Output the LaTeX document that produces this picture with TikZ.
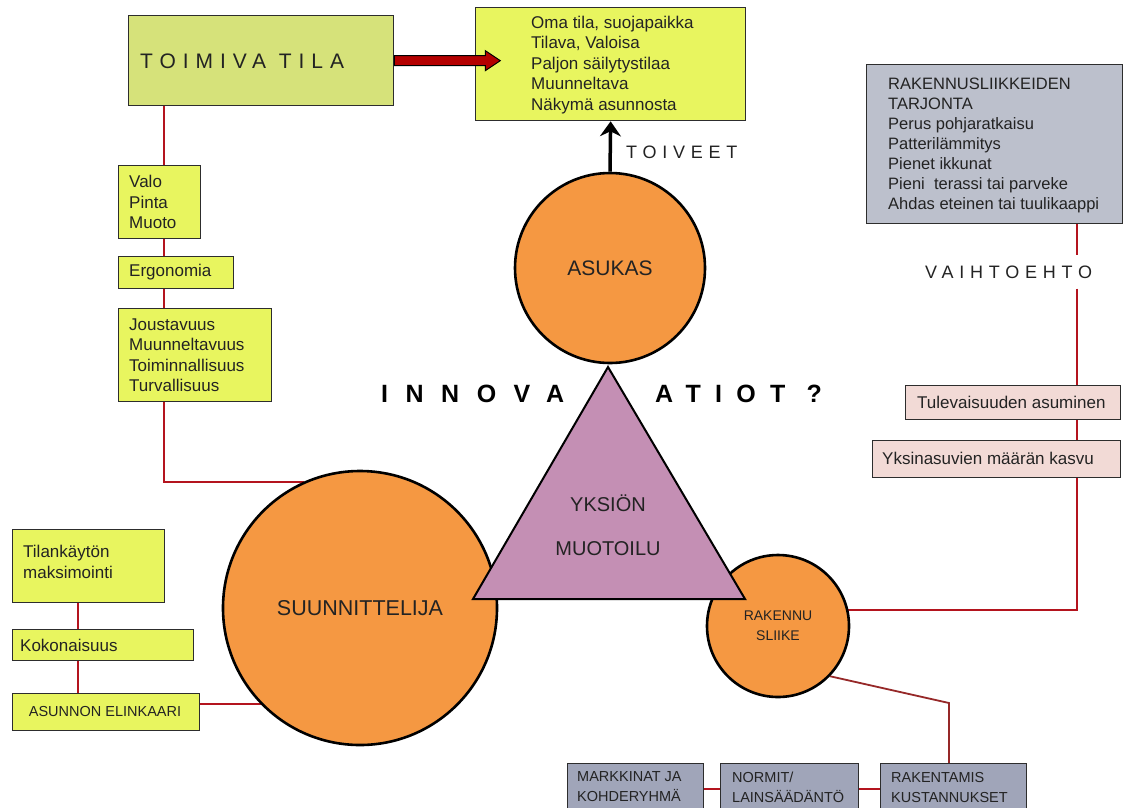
\documentclass[tikz,border=0pt]{standalone}
\usepackage{fontspec}
\setmainfont{Liberation Sans}
\newfontfamily\lsA[LetterSpace=33]{Liberation Sans}
\newfontfamily\lsB[LetterSpace=32]{Liberation Sans}
\newfontfamily\lsC[LetterSpace=70]{Liberation Sans}
\newfontfamily\lsD[LetterSpace=57]{Liberation Sans}
\usetikzlibrary{arrows.meta,calc}
\pgfdeclarelayer{back}
\pgfdeclarelayer{bg}
\pgfsetlayers{back,bg,main}
\definecolor{orng}{RGB}{245,152,66}
\definecolor{ylw}{RGB}{232,245,95}
\definecolor{toim}{RGB}{214,226,122}
\definecolor{trig}{RGB}{196,143,180}
\definecolor{gryA}{RGB}{188,192,204}
\definecolor{gryB}{RGB}{160,165,185}
\definecolor{pnk}{RGB}{242,218,214}
\definecolor{redc}{RGB}{180,20,30}
\definecolor{redb}{RGB}{150,40,40}
\definecolor{arw}{RGB}{180,0,0}
\definecolor{txtc}{RGB}{35,35,35}
\definecolor{edge}{RGB}{45,45,45}
\begin{document}
\begin{tikzpicture}[x=1pt,y=-1pt,
  box/.style={draw=edge, line width=1.3pt, anchor=north west, inner sep=0pt},
  txt/.style={anchor=west, align=left, inner sep=0pt, text=txtc, font=\fontsize{17}{20.5}\selectfont},
  rtxt/.style={txt, font=\fontsize{16.5}{20}\selectfont},
  smalltxt/.style={txt, font=\fontsize{14.5}{20}\selectfont},
  circ/.style={circle, draw=black, line width=2.6pt, fill=orng, inner sep=0pt, text=txtc, align=center},
  redl/.style={draw=redc, line width=1.8pt},
  ttl/.style={anchor=west, inner sep=0pt, text=txtc}]
\useasboundingbox (0,0) rectangle (1126,807);
\clip (0,0) rectangle (1126,807);
\begin{pgfonlayer}{back}
\fill[white] (0,0) rectangle (1126,807);
\end{pgfonlayer}

% circles
\node[circ, minimum size=190, font=\fontsize{21}{24}\selectfont] (asukas) at (610,268) {ASUKAS};
\node[circ, minimum size=274, font=\fontsize{21.5}{24}\selectfont] (suunn) at (360,608) {SUUNNITTELIJA};
\node[circ, minimum size=142, font=\fontsize{14}{20}\selectfont] (rak) at (778,626) {RAKENNU\\SLIIKE};

% triangle
\coordinate (tA) at (608,367);
\coordinate (tB) at (473,599);
\coordinate (tC) at (745,599);
\filldraw[fill=trig, draw=black, line width=2pt, line join=miter] (tA) -- (tB) -- (tC) -- cycle;
\node[align=center, text=txtc, font=\fontsize{20}{44}\selectfont, inner sep=0pt] (tri) at (608,525) {YKSIÖN\\MUOTOILU};

% innovation label
\node[ttl, font=\fontsize{25}{30}\selectfont\lsC\bfseries, text=black] (innova) at (381,394) {INNOVA};
\node[ttl, font=\fontsize{25}{30}\selectfont\lsD\bfseries, text=black] (atiot) at (655,394) {ATIOT ?};

% top area
\node[box, fill=toim, minimum width=265, minimum height=90] (toimiva) at (128,15) {};
\node[ttl, font=\fontsize{21}{25}\selectfont\lsA] (toimivat) at (140,61) {TOIMIVA TILA};
\node[box, fill=ylw, minimum width=270, minimum height=113] (toive) at (475,7) {};
\node[txt] (toivet) at (531,65) {Oma tila, suojapaikka\\Tilava, Valoisa\\Paljon säilytystilaa\\Muunneltava\\Näkymä asunnosta};
\node[ttl, font=\fontsize{18}{22}\selectfont\lsB] (toiveet) at (626,152) {TOIVEET};

% left column
\node[box, fill=ylw, minimum width=82, minimum height=73] (valo) at (118,165) {};
\node[txt] (valot) at (129,202) {Valo\\Pinta\\Muoto};
\node[box, fill=ylw, minimum width=115, minimum height=32] (ergo) at (118,256) {};
\node[txt] (ergot) at (129,272) {Ergonomia};
\node[box, fill=ylw, minimum width=153, minimum height=93] (jous) at (118,308) {};
\node[txt] (joust) at (129,355) {Joustavuus\\Muunneltavuus\\Toiminnallisuus\\Turvallisuus};

% left bottom
\node[box, fill=ylw, minimum width=152, minimum height=73] (tilan) at (12,529) {};
\node[txt] (tilant) at (23,562) {Tilankäytön\\maksimointi};
\node[box, fill=ylw, minimum width=181, minimum height=31] (koko) at (12,629) {};
\node[txt] (kokot) at (20,645) {Kokonaisuus};
\node[box, fill=ylw, minimum width=187, minimum height=37] (asun) at (12,693) {};
\node[smalltxt, anchor=center] (asunt) at (105,711) {ASUNNON ELINKAARI};

% right column
\node[box, fill=gryA, minimum width=256, minimum height=159] (tarj) at (866,64) {};
\node[rtxt] (tarjt) at (888,145) {RAKENNUSLIIKKEIDEN\\TARJONTA\\Perus pohjaratkaisu\\Patterilämmitys\\Pienet ikkunat\\Pieni\ \ terassi tai parveke\\Ahdas eteinen tai tuulikaappi};
\node[ttl, font=\fontsize{18}{22}\selectfont\lsB, minimum height=33] (vaiht) at (925,272) {VAIHTOEHTO};
\node[box, fill=pnk, minimum width=215, minimum height=34] (tulev) at (905,385) {};
\node[txt] (tulevt) at (917,402) {Tulevaisuuden asuminen};
\node[box, fill=pnk, minimum width=248, minimum height=37] (yksin) at (872,440) {};
\node[txt] (yksint) at (882,458) {Yksinasuvien määrän kasvu};

% bottom row
\node[box, fill=gryB, minimum width=136, minimum height=50] (mark) at (567,763) {};
\node[smalltxt] (markt) at (577,787) {MARKKINAT JA\\KOHDERYHMÄ};
\node[box, fill=gryB, minimum width=138, minimum height=50] (norm) at (720,763) {};
\node[smalltxt] (normt) at (732,787) {NORMIT/\\LAINSÄÄDÄNTÖ};
\node[box, fill=gryB, minimum width=146, minimum height=50] (rakk) at (880,763) {};
\node[smalltxt] (rakkt) at (891,787) {RAKENTAMIS\\KUSTANNUKSET};

% arrows
\filldraw[fill=arw, draw=black, line width=1pt] ($(toimiva.east)+(0,-5)$) -- ++(91,0) -- ++(0,-5) -- ++(15,10) -- ++(-15,10) -- ++(0,-5) -- ++(-91,0) -- cycle;
\draw[line width=3.5pt, -{Stealth[length=15pt,width=21pt,inset=5pt]}] (asukas.north) -- (toive.south);

% connectors
\coordinate (lx) at (164,0);
\coordinate (lx2) at (78,0);
\coordinate (rx) at (1077,0);
\coordinate (bend) at (949,703);
\begin{pgfonlayer}{bg}
\draw[redl] (toimiva.south -| lx) -- (valo.north -| lx);
\draw[redl] (valo.south -| lx) -- (ergo.north -| lx);
\draw[redl] (ergo.south -| lx) -- (jous.north -| lx);
\draw[redl] (jous.south -| lx) |- (suunn.114);
\draw[redl] (tilan.south -| lx2) -- (koko.north -| lx2);
\draw[redl] (koko.south -| lx2) -- (asun.north -| lx2);
\draw[redl] ([yshift=8pt]asun.east) -- ([yshift=8pt]asun.east -| suunn.center);
\draw[redl] (tarj.south -| rx) -- (vaiht.north -| rx);
\draw[redl] (vaiht.south -| rx) -- (tulev.north -| rx);
\draw[redl] (tulev.south -| rx) -- (yksin.north -| rx);
\draw[redl] (yksin.south -| rx) |- (rak.13);
\draw[redl, draw=redb] (rak.-44) -- (bend) -- (rakk.north -| bend);
\draw[redl] (mark.east) -- (norm.west);
\draw[redl] (norm.east) -- (rakk.west);
\end{pgfonlayer}
\end{tikzpicture}
\end{document}
